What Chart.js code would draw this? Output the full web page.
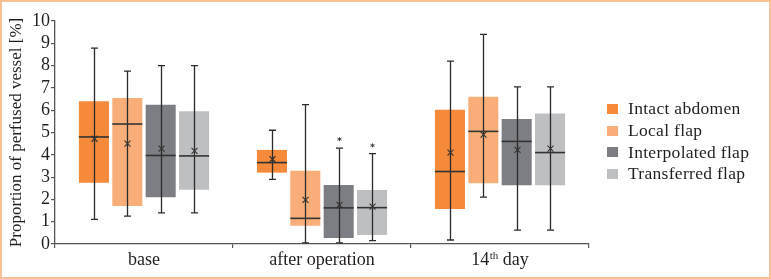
<!DOCTYPE html>
<html>
<head>
<meta charset="utf-8">
<script src="https://cdn.jsdelivr.net/npm/chart.js@4.4.0/dist/chart.umd.min.js"></script>
<style>
  html, body { margin: 0; padding: 0; background: #fff; }
  #wrap { position: relative; width: 771px; height: 279px; }
  #frame { position: absolute; left: 0; top: 0; width: 771px; height: 279px; box-sizing: border-box;
           border: 2px solid #f9c093; pointer-events: none; }
  #legend { position: absolute; left: 607px; top: 98px; font-family: "Liberation Serif", serif;
            font-size: 17.5px; color: #231f20; letter-spacing: 0.3px; }
  .row { height: 21.7px; display: flex; align-items: center; white-space: nowrap; }
  .sw { width: 11px; height: 10px; margin-right: 10px; flex: none; }
</style>
</head>
<body>
<div id="wrap">
  <canvas id="chart" width="771" height="279"></canvas>
  <div id="legend"></div>
  <div id="frame"></div>
</div>
<script>
const categories = ['base', 'after operation', '14th day'];
const seriesNames = ['Intact abdomen', 'Local flap', 'Interpolated flap', 'Transferred flap'];
const seriesColors = ['#f58a3b', '#f9ae79', '#7d7e83', '#bebfc1'];

// one row per series, one value per category
const minValues    = [[1.1, 2.9, 0.18], [1.25, 0.05, 2.1], [1.4, 0.05, 0.62], [1.4, 0.15, 0.62]];
const q1Values     = [[2.75, 3.2, 1.57], [1.7, 0.82, 2.72], [2.1, 0.27, 2.63], [2.43, 0.4, 2.63]];
const medianValues = [[4.8, 3.65, 3.25], [5.38, 1.15, 5.05], [3.97, 1.62, 4.6], [3.95, 1.63, 4.1]];
const q3Values     = [[6.4, 4.22, 6.02], [6.55, 3.28, 6.6], [6.25, 2.65, 5.6], [5.95, 2.42, 5.85]];
const maxValues    = [[8.78, 5.1, 8.2], [7.75, 6.25, 9.4], [8.0, 4.3, 7.05], [8.0, 4.05, 7.05]];
const meanValues   = [[4.72, 3.8, 4.1], [4.5, 1.98, 4.9], [4.28, 1.75, 4.22], [4.18, 1.68, 4.28]];
const outlierValues = [[[], [], []], [[], [], []], [[], [4.7], []], [[], [4.42], []]];

const yTicks = [0, 1, 2, 3, 4, 5, 6, 7, 8, 9, 10];
const textColor = '#231f20';
const lineColor = '#2b2b2b';

// html legend
const legend = document.getElementById('legend');
seriesNames.forEach((name, i) => {
  legend.innerHTML += `<div class="row"><span class="sw" style="background:${seriesColors[i]}"></span>${name}</div>`;
});

const boxPlotPlugin = {
  id: 'boxPlot',
  afterDatasetsDraw(chart) {
    const ctx = chart.ctx;
    const y = chart.scales.y;
    chart.data.datasets.forEach((ds, s) => {
      const meta = chart.getDatasetMeta(s);
      meta.data.forEach((bar, c) => {
        const x = Math.round(bar.x) + 0.5;
        const half = bar.width / 2;
        const yMin = y.getPixelForValue(minValues[s][c]);
        const yMax = y.getPixelForValue(maxValues[s][c]);
        const yMed = y.getPixelForValue(medianValues[s][c]);
        const yMean = y.getPixelForValue(meanValues[s][c]);
        ctx.save();
        ctx.strokeStyle = lineColor;
        ctx.lineWidth = 1.3;
        ctx.beginPath();
        ctx.moveTo(x, yMin); ctx.lineTo(x, yMax);
        ctx.moveTo(x - 3.5, yMin); ctx.lineTo(x + 3.5, yMin);
        ctx.moveTo(x - 3.5, yMax); ctx.lineTo(x + 3.5, yMax);
        ctx.stroke();
        // median
        ctx.lineWidth = 1.6;
        ctx.strokeStyle = '#333';
        ctx.beginPath();
        ctx.moveTo(bar.x - half, yMed); ctx.lineTo(bar.x + half, yMed);
        ctx.stroke();
        // mean marker
        ctx.lineWidth = 1.1;
        ctx.beginPath();
        ctx.moveTo(x - 3, yMean - 3); ctx.lineTo(x + 3, yMean + 3);
        ctx.moveTo(x + 3, yMean - 3); ctx.lineTo(x - 3, yMean + 3);
        ctx.stroke();
        // outliers
        ctx.lineWidth = 0.9;
        outlierValues[s][c].forEach(v => {
          const yo = y.getPixelForValue(v);
          ctx.beginPath();
          ctx.moveTo(x, yo - 2); ctx.lineTo(x, yo + 2);
          ctx.moveTo(x - 2, yo - 1); ctx.lineTo(x + 2, yo + 1);
          ctx.moveTo(x + 2, yo - 1); ctx.lineTo(x - 2, yo + 1);
          ctx.stroke();
        });
        ctx.restore();
      });
    });
  }
};

// category labels, with the ordinal suffix raised
const xLabelPlugin = {
  id: 'xLabels',
  afterDraw(chart) {
    const ctx = chart.ctx;
    const xs = chart.scales.x;
    const baseY = chart.chartArea.bottom + 21;
    ctx.save();
    ctx.fillStyle = textColor;
    ctx.textBaseline = 'alphabetic';
    ctx.textAlign = 'left';
    categories.forEach((label, i) => {
      const cx = xs.getPixelForValue(i);
      const m = label.match(/^(\d+)(st|nd|rd|th)(.*)$/);
      const big = '18px "Liberation Serif"';
      const small = '11px "Liberation Serif"';
      if (m) {
        ctx.font = big; const w1 = ctx.measureText(m[1]).width; const w3 = ctx.measureText(m[3]).width;
        ctx.font = small; const w2 = ctx.measureText(m[2]).width + 0.5;
        let x0 = cx - (w1 + w2 + w3) / 2;
        ctx.font = big; ctx.fillText(m[1], x0, baseY);
        ctx.font = small; ctx.fillText(m[2], x0 + w1 + 0.5, baseY - 6);
        ctx.font = big; ctx.fillText(m[3], x0 + w1 + w2, baseY);
      } else {
        ctx.font = big;
        const w = ctx.measureText(label).width;
        ctx.fillText(label, cx - w / 2, baseY);
      }
    });
    ctx.restore();
  }
};

const datasets = seriesNames.map((name, s) => ({
  label: name,
  data: categories.map((_, c) => [q1Values[s][c], q3Values[s][c]]),
  backgroundColor: seriesColors[s],
  borderWidth: 0,
  categoryPercentage: 0.75,
  barPercentage: 0.9
}));

new Chart(document.getElementById('chart').getContext('2d'), {
  type: 'bar',
  data: { labels: categories, datasets: datasets },
  options: {
    responsive: false,
    animation: false,
    devicePixelRatio: 1,
    layout: { padding: { top: 21, right: 182, bottom: 0, left: 0 } },
    plugins: { legend: { display: false }, tooltip: { enabled: false } },
    scales: {
      x: {
        afterFit: (scale) => { scale.height = 35; },
        border: { color: '#555', width: 1.3 },
        grid: { drawOnChartArea: false, color: '#555', tickLength: 4, lineWidth: 1.2 },
        ticks: { display: false }
      },
      y: {
        min: 0,
        max: 10,
        afterFit: (scale) => { scale.width = 55; },
        afterBuildTicks: (scale) => { scale.ticks = yTicks.map(v => ({ value: v })); },
        border: { color: '#555', width: 1.3 },
        grid: { drawOnChartArea: false, color: '#555', tickLength: 4, lineWidth: 1.2 },
        ticks: {
          autoSkip: false,
          padding: 1,
          color: textColor,
          font: { family: 'Liberation Serif', size: 18 }
        },
        title: {
          display: true,
          text: 'Proportion of perfused vessel [%]',
          color: textColor,
          font: { family: 'Liberation Serif', size: 17 },
          padding: { top: 6, bottom: 0 }
        }
      }
    }
  },
  plugins: [boxPlotPlugin, xLabelPlugin]
});
</script>
</body>
</html>
